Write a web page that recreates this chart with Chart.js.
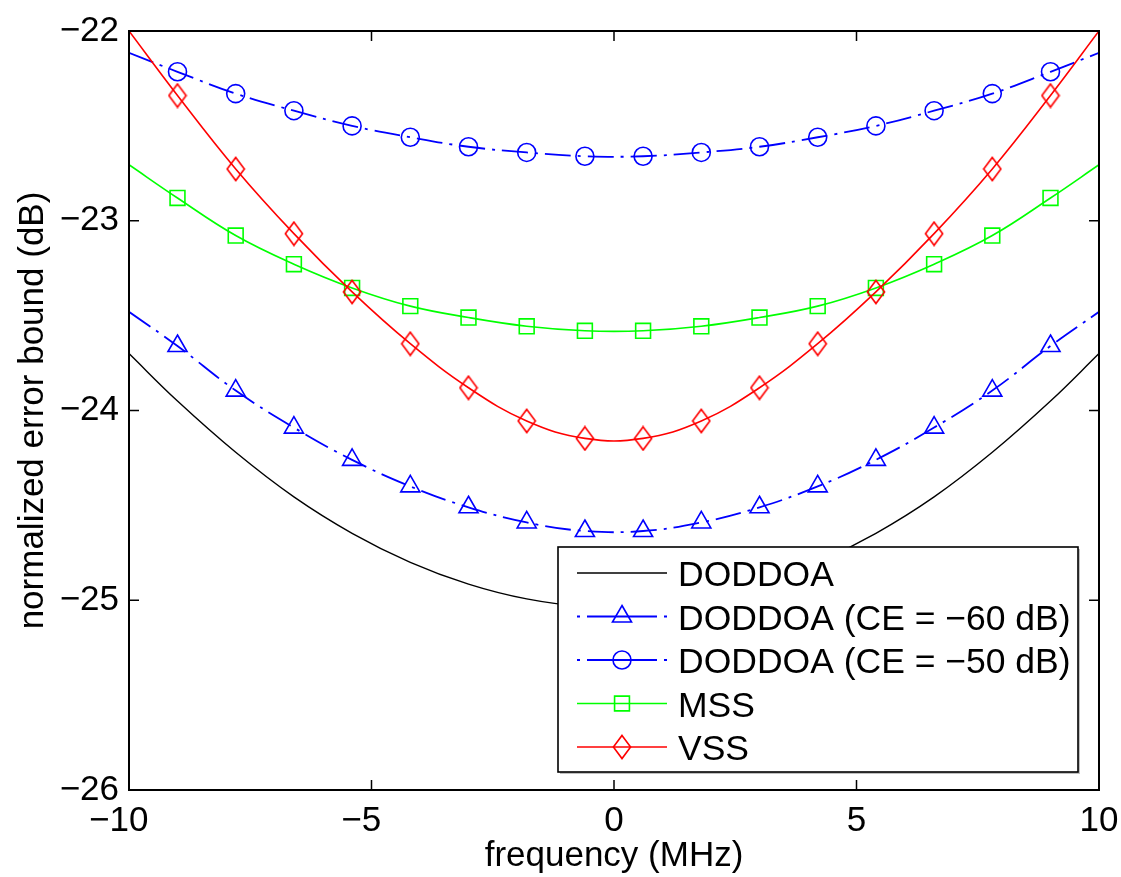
<!DOCTYPE html>
<html>
<head>
<meta charset="utf-8">
<title>normalized error bound</title>
<script src="https://cdn.jsdelivr.net/npm/chart.js@4.4.0/dist/chart.umd.min.js"></script>
<style>
  html, body { margin: 0; padding: 0; background: #fff; }
  #wrap { width: 1121px; height: 877px; }
</style>
</head>
<body>
<div id="wrap"><canvas id="boundChart" width="1121" height="877"></canvas></div>
<script>
// ---- data (dB) ----
const freq = [-10, -9, -7.8, -6.6, -5.4, -4.2, -3, -1.8, -0.6, 0.6, 1.8, 3, 4.2, 5.4, 6.6, 7.8, 9, 10];
const doddoa = [-23.70, -23.95, -24.22, -24.455, -24.647, -24.80, -24.915, -24.993, -25.033,
                -25.033, -24.993, -24.915, -24.80, -24.647, -24.455, -24.22, -23.95, -23.70];
const doddoaCE60 = [-23.48, -23.66, -23.895, -24.09, -24.26, -24.40, -24.51, -24.59, -24.635,
                    -24.635, -24.59, -24.51, -24.40, -24.26, -24.09, -23.895, -23.66, -23.48];
const doddoaCE50 = [-22.115, -22.215, -22.33, -22.42, -22.50, -22.56, -22.61, -22.64, -22.66,
                    -22.66, -22.64, -22.61, -22.56, -22.50, -22.42, -22.33, -22.215, -22.115];
const mss = [-22.705, -22.88, -23.078, -23.229, -23.354, -23.45, -23.51, -23.556, -23.58,
             -23.58, -23.556, -23.51, -23.45, -23.354, -23.229, -23.078, -22.88, -22.705];
const vss = [-22.00, -22.34, -22.727, -23.068, -23.375, -23.648, -23.88, -24.055, -24.147,
             -24.147, -24.055, -23.88, -23.648, -23.375, -23.068, -22.727, -22.34, -22.00];

const xTicks = [-10, -5, 0, 5, 10];
const yTicks = [-26, -25, -24, -23, -22];
const seriesLabels = ['DODDOA', 'DODDOA (CE = \u221260 dB)', 'DODDOA (CE = \u221250 dB)', 'MSS', 'VSS'];

const FONT = 'Liberation Sans, Arial, Helvetica, sans-serif';
const FS = 35;
const MINUS = '\u2212';
const dashDot = [26, 7, 3, 7];
const legendDashDot = [3, 7, 70, 7, 3];

// matlab style minus sign
const fmt = v => (v < 0 ? MINUS + Math.abs(v) : String(v));

// tall hollow diamond like matlab's 'd' marker
function diamondMarker(color) {
    const c = document.createElement('canvas');
    c.width = 20; c.height = 26;
    const g = c.getContext('2d');
    g.strokeStyle = color;
    g.lineWidth = 1.6;
    g.beginPath();
    g.moveTo(10, 1.4);
    g.lineTo(18.6, 13);
    g.lineTo(10, 24.6);
    g.lineTo(1.4, 13);
    g.closePath();
    g.stroke();
    return c;
}

function makeSeries(i, values, color, style, radius, dash, width) {
    const last = freq.length - 1;
    return {
        label: seriesLabels[i],
        data: freq.map((f, k) => ({ x: f, y: values[k] })),
        borderColor: color,
        borderWidth: width,
        borderDash: dash,
        pointStyle: style,
        pointRadius: ctx => (!style || ctx.dataIndex === 0 || ctx.dataIndex === last) ? 0 : radius,
        pointHoverRadius: 0,
        pointBorderColor: color,
        pointBackgroundColor: 'rgba(0,0,0,0)',
        pointBorderWidth: 1.6,
        tension: 0.4,
        fill: false,
        clip: 0,
        order: 5 - i,
        _legendRadius: radius,
        _legendDash: dash.length ? legendDashDot : []
    };
}

const datasets = [
    makeSeries(0, doddoa, '#000000', false, 0, [], 1.4),
    makeSeries(1, doddoaCE60, '#0000ff', 'triangle', 11, dashDot, 1.8),
    makeSeries(2, doddoaCE50, '#0000ff', 'circle', 9, dashDot, 1.8),
    makeSeries(3, mss, '#00ff00', 'rect', 10.5, [], 1.6),
    makeSeries(4, vss, '#ff0000', diamondMarker('#ff0000'), 12, [], 1.6)
];

// box around the axes, inward ticks on all four sides, x labels and the legend
const matlabAxes = {
    id: 'matlabAxes',
    afterDatasetsDraw(chart) {
        const { ctx, chartArea: a, scales } = chart;
        const tl = 10;
        ctx.save();
        ctx.strokeStyle = '#000';
        ctx.lineWidth = 1.5;
        ctx.beginPath();
        xTicks.forEach(v => {
            const px = scales.x.getPixelForValue(v);
            ctx.moveTo(px, a.bottom); ctx.lineTo(px, a.bottom - tl);
            ctx.moveTo(px, a.top); ctx.lineTo(px, a.top + tl);
        });
        yTicks.forEach(v => {
            const py = scales.y.getPixelForValue(v);
            ctx.moveTo(a.left, py); ctx.lineTo(a.left + tl, py);
            ctx.moveTo(a.right, py); ctx.lineTo(a.right - tl, py);
        });
        ctx.stroke();
        ctx.lineWidth = 2;
        ctx.strokeRect(a.left, a.top, a.right - a.left, a.bottom - a.top);

        // x tick labels: digits centred on the tick, minus hanging to the left
        ctx.fillStyle = '#000';
        ctx.font = FS + 'px ' + FONT;
        ctx.textBaseline = 'alphabetic';
        xTicks.forEach(v => {
            const px = scales.x.getPixelForValue(v);
            const digits = String(Math.abs(v));
            const dw = ctx.measureText(digits).width;
            ctx.textAlign = 'center';
            ctx.fillText(digits, px, a.bottom + 41);
            if (v < 0) {
                ctx.textAlign = 'right';
                ctx.fillText(MINUS, px - dw / 2, a.bottom + 41);
            }
        });
        ctx.restore();
    },
    afterDraw(chart) {
        const { ctx, chartArea: a } = chart;
        const w = 520, h = 225;
        const bx = a.right - 21 - w;
        const by = a.bottom - 18 - h;
        ctx.save();
        // faint shadow
        ctx.fillStyle = 'rgba(0,0,0,0.25)';
        ctx.fillRect(bx + 2, by + 2, w, h);
        ctx.fillStyle = '#fff';
        ctx.fillRect(bx, by, w, h);
        ctx.strokeStyle = '#000';
        ctx.lineWidth = 1.6;
        ctx.strokeRect(bx, by, w, h);

        ctx.font = '35.5px ' + FONT;
        ctx.textAlign = 'left';
        ctx.textBaseline = 'alphabetic';
        chart.data.datasets.forEach((ds, i) => {
            const ry = by + 26 + i * 43.5;
            ctx.strokeStyle = ds.borderColor;
            ctx.lineWidth = ds.borderWidth;
            ctx.setLineDash(ds._legendDash);
            ctx.beginPath();
            ctx.moveTo(bx + 19, ry);
            ctx.lineTo(bx + 109, ry);
            ctx.stroke();
            ctx.setLineDash([]);
            if (ds.pointStyle) {
                ctx.fillStyle = 'rgba(0,0,0,0)';
                ctx.lineWidth = ds.pointBorderWidth;
                Chart.helpers.drawPoint(ctx, {
                    pointStyle: ds.pointStyle,
                    radius: ds._legendRadius,
                    rotation: 0,
                    borderWidth: ds.pointBorderWidth
                }, bx + 64, ry);
            }
            ctx.fillStyle = '#000';
            ctx.fillText(ds.label, bx + 120, ry + 13);
        });
        ctx.restore();
    }
};

new Chart(document.getElementById('boundChart'), {
    type: 'line',
    data: { datasets: datasets },
    options: {
        responsive: false,
        animation: false,
        devicePixelRatio: 1,
        layout: { padding: { top: 22, right: 22, left: 0, bottom: 0 } },
        plugins: {
            legend: { display: false },
            tooltip: { enabled: false }
        },
        scales: {
            x: {
                type: 'linear',
                min: -10,
                max: 10,
                afterBuildTicks: s => { s.ticks = xTicks.map(v => ({ value: v })); },
                afterFit: s => { s.height = 87; },
                ticks: { display: false },
                grid: { display: false, drawTicks: false },
                border: { display: false },
                title: {
                    display: true,
                    text: 'frequency (MHz)',
                    color: '#000',
                    font: { family: FONT, size: FS, lineHeight: 1.2 },
                    padding: { top: 0, bottom: 0 }
                }
            },
            y: {
                type: 'linear',
                min: -26,
                max: -22,
                afterBuildTicks: s => { s.ticks = yTicks.map(v => ({ value: v })); },
                afterFit: s => { s.width = 129; },
                ticks: {
                    color: '#000',
                    font: { family: FONT, size: FS },
                    padding: 10,
                    callback: v => fmt(v)
                },
                grid: { display: false, drawTicks: false },
                border: { display: false },
                title: {
                    display: true,
                    text: 'normalized error bound (dB)',
                    color: '#000',
                    font: { family: FONT, size: FS, lineHeight: 1.2 },
                    padding: { top: 12, bottom: 0 }
                }
            }
        }
    },
    plugins: [matlabAxes]
});
</script>
</body>
</html>
